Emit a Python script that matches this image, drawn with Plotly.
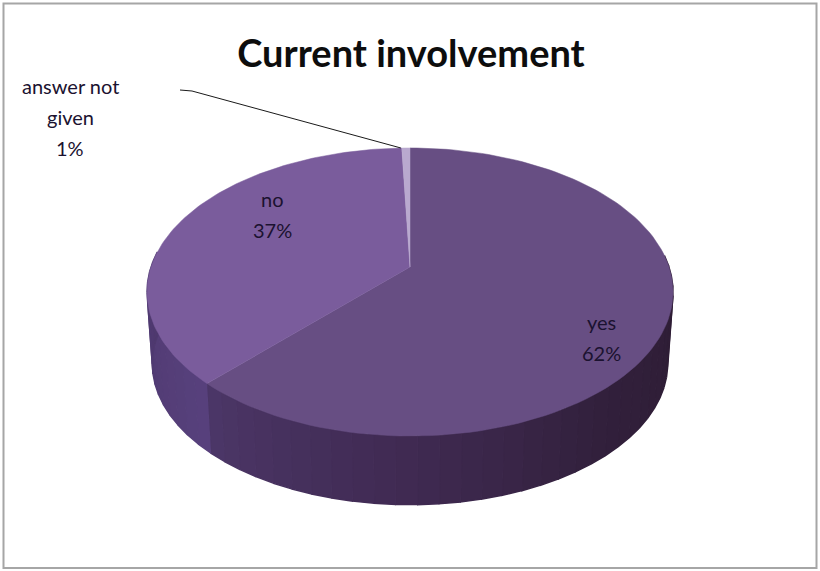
import numpy as np
import plotly.graph_objects as go

# values (sliver is about 0.6 of a percent, label rounds it)
categories = ['yes', 'no', 'answer not given']
shares = [62.0, 37.4, 0.6]
label_lines = [['yes'], ['no'], ['answer not', 'given']]
title_text = 'Current involvement'

top_colors = ['#674e83', '#7a5c9c', '#b9a9cf']
# wall shading, colour by angle going clockwise from the top
wall_angles = [90, 140, 180, 223.1, 223.3, 290]
wall_r = [46, 50, 64, 76, 88, 74]
wall_g = [29, 32, 42, 55, 65, 54]
wall_b = [52, 60, 82, 104, 125, 105]

W, H = 820, 571

# pie seen from above with some perspective
CX, CY = 410, 267
RX, RY = 259, 139.7
K = 0.1736
DROP = 72
SHRINK = 0.98


def rim(deg, bottom=False):
    t = np.radians(deg)
    u, v = np.sin(t), -np.cos(t)
    w = 1 - K * v
    s = SHRINK if bottom else 1
    return CX + s * RX * u / w, CY + (DROP if bottom else 0) + s * RY * v / w


fig = go.Figure()


def add_poly(x, y, color, lw=0.5):
    fig.add_trace(go.Scatter(x=list(x), y=list(y), mode='lines', fill='toself', fillcolor=color,
                             line=dict(color=color, width=lw), hoverinfo='skip', showlegend=False))


edges = np.cumsum([0] + shares) * 3.6

# side wall, cut in small strips for the shading (the back of it is hidden anyway)
for i in range(len(shares)):
    a0, a1 = edges[i], edges[i + 1]
    n = max(1, int((a1 - a0) / 4))
    steps = np.linspace(a0, a1, n + 1)
    for j in range(n):
        mid = (steps[j] + steps[j + 1]) / 2
        if mid < 85 or mid > 275:
            continue
        col = 'rgb(%d,%d,%d)' % (np.interp(mid, wall_angles, wall_r), np.interp(mid, wall_angles, wall_g),
                                 np.interp(mid, wall_angles, wall_b))
        ts = np.linspace(steps[j], steps[j + 1], 4)
        xt, yt = rim(ts)
        xb, yb = rim(ts[::-1], bottom=True)
        add_poly(np.r_[xt, xb], np.r_[yt, yb], col, lw=1.5)

# top of the pie
for i in range(len(shares)):
    ts = np.linspace(edges[i], edges[i + 1], 120)
    xt, yt = rim(ts)
    add_poly(np.r_[CX, xt, CX], np.r_[CY, yt, CY], top_colors[i])

# leader line of the small slice
lx, ly = rim(edges[2] + shares[2] * 1.8)
fig.add_trace(go.Scatter(x=[180, 192, lx - 5], y=[90, 91, ly], mode='lines', line=dict(color='#1a1a1a', width=1),
                         hoverinfo='skip', showlegend=False))

# data labels, one annotation per line because the line spacing is wide
label_pos = [(601, 322), (272, 199), (70, 86)]
LINE_GAP = 31
annotations = []
for i, lines in enumerate(label_lines):
    px, py = label_pos[i]
    for j, s in enumerate(lines + ['%d%%' % round(shares[i])]):
        annotations.append(dict(x=px, y=py + j * LINE_GAP, text=s, showarrow=False, xanchor='center', yanchor='middle',
                                font=dict(family='Lato', size=20, color='#1b1230')))

fig.update_layout(
    width=W, height=H,
    margin=dict(l=0, r=0, t=0, b=0),
    paper_bgcolor='white', plot_bgcolor='white',
    showlegend=False,
    title=dict(text='<b>' + title_text + '</b>', x=411 / W, y=1 - 54 / H, xanchor='center', yanchor='middle',
               font=dict(family='Lato', size=38, color='#0d0d0d')),
    xaxis=dict(range=[0, W], visible=False, fixedrange=True),
    yaxis=dict(range=[H, 0], visible=False, fixedrange=True),
    annotations=annotations,
    shapes=[dict(type='rect', x0=3.5, y0=3.5, x1=816.5, y1=568, line=dict(color='#a6a6a6', width=2))],
)

# the frame sits closer to the edge than the default body margin allows
fig.write_html("out.html", config={'displayModeBar': False}, post_script="document.body.style.margin='0';")
